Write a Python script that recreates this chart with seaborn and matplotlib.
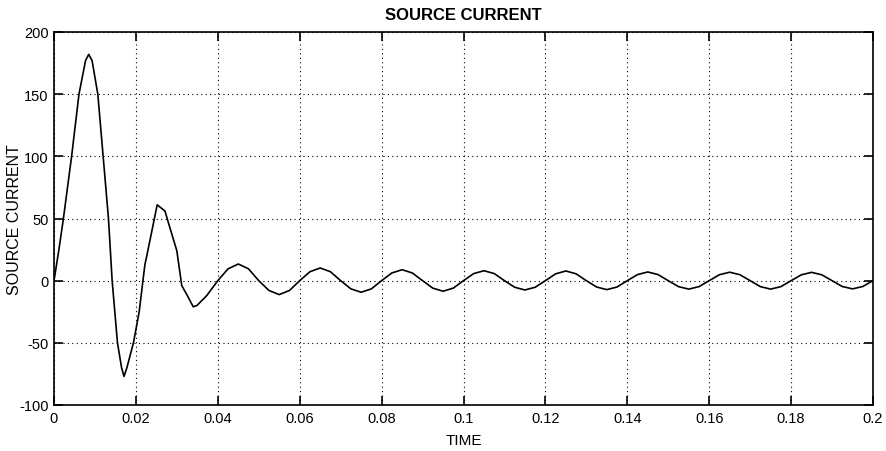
import matplotlib
matplotlib.use("Agg")
import matplotlib.pyplot as plt
import seaborn as sns
import pandas as pd

# Start-up transient of the source current (s, A)
transient_time = [0.0, 0.0012, 0.0023, 0.0043, 0.0061, 0.0077, 0.00847, 0.0093,
                  0.0107, 0.0120, 0.0133, 0.0142, 0.0155, 0.0165, 0.0171, 0.0178,
                  0.0194, 0.0208, 0.0222, 0.0226, 0.0252, 0.0271, 0.0279, 0.0300,
                  0.0312, 0.0324, 0.0340, 0.0349, 0.0373, 0.0400]
transient_current = [0, 25, 50, 100, 150, 177, 182, 177,
                     150, 100, 50, 0, -50, -70, -77, -70,
                     -50, -25, 13, 19, 61, 56, 47, 24,
                     -4, -11, -21, -20, -12, 0]

# Steady 50 Hz ripple after t = 0.04 s, sampled every 2.5 ms
steady_time = [0.0425, 0.0450, 0.0475, 0.0500, 0.0525, 0.0550, 0.0575, 0.0600,
               0.0625, 0.0650, 0.0675, 0.0700, 0.0725, 0.0750, 0.0775, 0.0800,
               0.0825, 0.0850, 0.0875, 0.0900, 0.0925, 0.0950, 0.0975, 0.1000,
               0.1025, 0.1050, 0.1075, 0.1100, 0.1125, 0.1150, 0.1175, 0.1200,
               0.1225, 0.1250, 0.1275, 0.1300, 0.1325, 0.1350, 0.1375, 0.1400,
               0.1425, 0.1450, 0.1475, 0.1500, 0.1525, 0.1550, 0.1575, 0.1600,
               0.1625, 0.1650, 0.1675, 0.1700, 0.1725, 0.1750, 0.1775, 0.1800,
               0.1825, 0.1850, 0.1875, 0.1900, 0.1925, 0.1950, 0.1975, 0.2000]
steady_current = [9.5, 13.4, 9.5, 0, -7.9, -11.2, -7.9, 0,
                  7.2, 10.2, 7.2, 0, -6.6, -9.3, -6.6, 0,
                  6.2, 8.8, 6.2, 0, -6.0, -8.5, -6.0, 0,
                  5.7, 8.0, 5.7, 0, -5.3, -7.5, -5.3, 0,
                  5.5, 7.8, 5.5, 0, -5.1, -7.2, -5.1, 0,
                  4.9, 7.0, 4.9, 0, -4.8, -6.8, -4.8, 0,
                  4.8, 6.8, 4.8, 0, -4.8, -6.8, -4.8, 0,
                  4.7, 6.7, 4.7, 0, -4.7, -6.6, -4.7, 0]

x_ticks = [0, 0.02, 0.04, 0.06, 0.08, 0.1, 0.12, 0.14, 0.16, 0.18, 0.2]
x_tick_labels = ["0", "0.02", "0.04", "0.06", "0.08", "0.1", "0.12", "0.14",
                 "0.16", "0.18", "0.2"]
y_ticks = [-100, -50, 0, 50, 100, 150, 200]
y_tick_labels = ["-100", "-50", "0", "50", "100", "150", "200"]

df = pd.DataFrame({
    "TIME": transient_time + steady_time,
    "SOURCE CURRENT": transient_current + steady_current,
})

sns.set_style("ticks")
plt.rcParams["font.family"] = ["Liberation Sans", "DejaVu Sans"]

fig = plt.figure(figsize=(8.86, 4.52), dpi=100)
ax = fig.add_axes([54 / 886, 46 / 452, 819 / 886, 373 / 452])

sns.lineplot(data=df, x="TIME", y="SOURCE CURRENT", ax=ax, color="black",
             linewidth=1.2, estimator=None, sort=False)

ax.set_xlim(0, 0.2)
ax.set_ylim(-100, 200)
ax.set_xticks(x_ticks)
ax.set_xticklabels(x_tick_labels)
ax.set_yticks(y_ticks)
ax.set_yticklabels(y_tick_labels)

ax.grid(True, color="black", linestyle=(0, (1, 3)), linewidth=0.8)
ax.set_axisbelow(False)
for side in ["top", "bottom", "left", "right"]:
    ax.spines[side].set_visible(True)
    ax.spines[side].set_color("black")
    ax.spines[side].set_linewidth(1.2)

ax.tick_params(axis="both", which="major", direction="in", length=6.5,
               width=1.2, color="black", top=True, right=True,
               bottom=True, left=True, labelsize=10.5, pad=4,
               labelcolor="black")

ax.set_xlabel("TIME", fontsize=11, labelpad=6, color="black")
ax.set_ylabel("SOURCE CURRENT", fontsize=11.5, color="black")
ax.yaxis.set_label_coords(-0.0395, 0.5)
ax.set_title("SOURCE CURRENT", fontsize=12, fontweight="bold", pad=9,
             color="black")

fig.savefig("out.png", dpi=100)
